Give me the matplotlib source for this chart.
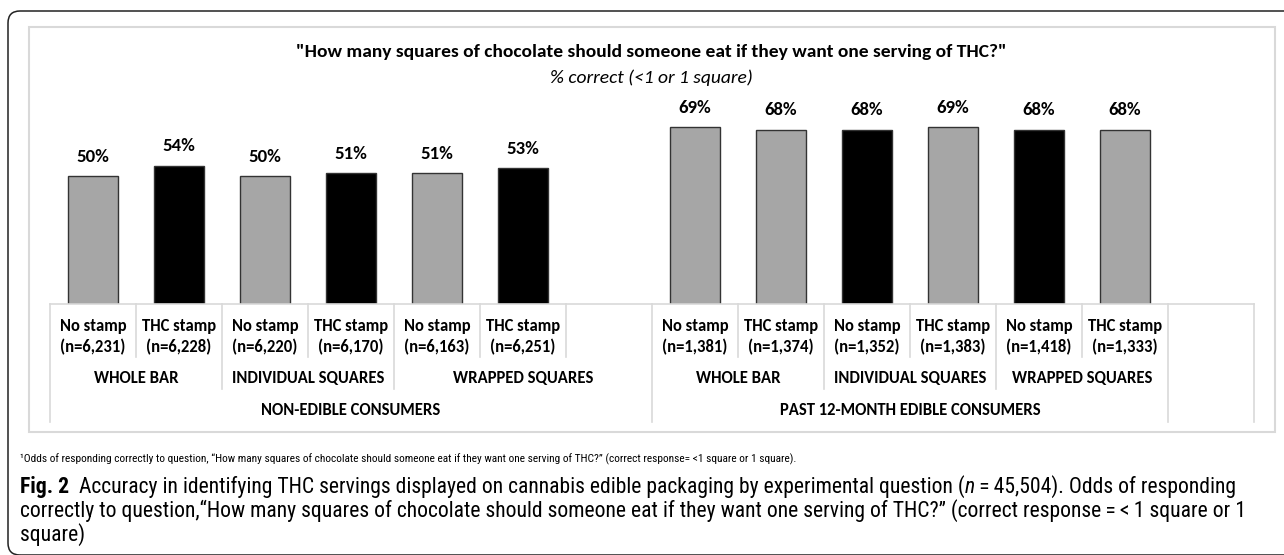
import matplotlib
matplotlib.use("Agg")
import matplotlib.pyplot as plt
from matplotlib import font_manager
from matplotlib.patches import FancyBboxPatch, Rectangle
from matplotlib.text import Annotation
from matplotlib.transforms import blended_transform_factory

# data
groups = ["NON-EDIBLE CONSUMERS", "PAST 12-MONTH EDIBLE CONSUMERS"]
packaging = ["WHOLE BAR", "INDIVIDUAL SQUARES", "WRAPPED SQUARES"]
stamps = ["No stamp", "THC stamp"]
n_nonedible = [6231, 6228, 6220, 6170, 6163, 6251]
n_edible = [1381, 1374, 1352, 1383, 1418, 1333]
pct_nonedible = [50, 54, 50, 51, 51, 53]
pct_edible = [69, 68, 68, 69, 68, 68]

GREY = "#a6a6a6"
fill_nonedible = [GREY, "black", GREY, "black", GREY, "black"]
fill_edible = [GREY, GREY, "black", GREY, "black", GREY]
LINE = "#d9d9d9"

installed = {f.name for f in font_manager.fontManager.ttflist}
def pick(cands):
    for c in cands:
        if c in installed:
            return c
    return "DejaVu Sans"

chart_font = pick(["Carlito", "Lato", "Open Sans"])
cap_font = pick(["Liberation Sans Narrow", "Roboto Condensed", "Open Sans", "Noto Sans"])

W, H = 1284, 555
fig = plt.figure(figsize=(W / 100, H / 100), dpi=100)
fig.patch.set_facecolor("white")

def fy(py):
    return 1 - py / H

# outer rounded box (runs past the right and bottom edge)
box = FancyBboxPatch((0.08, 0.0), 13.2, 5.44, boxstyle="round,pad=0,rounding_size=0.12",
                     transform=fig.dpi_scale_trans, fill=False, ec="#222222", lw=1.1)
fig.add_artist(box)

# light chart frame
fig.add_artist(Rectangle((29 / W, fy(432)), (1275 - 29) / W, (432 - 27) / H,
                         transform=fig.transFigure, fill=False, ec=LINE, lw=1.5))

ax = fig.add_axes([50 / W, fy(304), (1254 - 50) / W, 256 / H])
ax.set_xlim(-0.5, 13.5)
ax.set_ylim(0, 100)
ax.axis("off")

x_left = list(range(6))
x_right = list(range(7, 13))
ax.bar(x_left, pct_nonedible, width=0.58, color=fill_nonedible, edgecolor="#333333", lw=1)
ax.bar(x_right, pct_edible, width=0.58, color=fill_edible, edgecolor="#333333", lw=1)

for xs, vals in [(x_left, pct_nonedible), (x_right, pct_edible)]:
    for x, v in zip(xs, vals):
        ax.annotate(f"{v}%", (x, v), xytext=(0, 14), textcoords="offset points",
                    ha="center", va="center", fontsize=13.5, fontweight="bold",
                    family=chart_font)

tr = blended_transform_factory(ax.transData, fig.transFigure)

# category axis line and separators
ax.plot([-0.5, 13.5], [fy(304), fy(304)], color=LINE, lw=1.2, transform=tr, clip_on=False)
depth = {-0.5: 422, 0.5: 357, 1.5: 389, 2.5: 357, 3.5: 389, 4.5: 357, 5.5: 357,
         6.5: 422, 7.5: 357, 8.5: 389, 9.5: 357, 10.5: 389, 11.5: 357, 12.5: 422, 13.5: 422}
for b, end in depth.items():
    ax.plot([b, b], [fy(304), fy(end)], color=LINE, lw=1.2, transform=tr, clip_on=False)

lab = dict(ha="center", va="center", fontsize=12, fontweight="bold", family=chart_font,
           transform=tr)
for xs, ns in [(x_left, n_nonedible), (x_right, n_edible)]:
    for i, (x, n) in enumerate(zip(xs, ns)):
        ax.text(x, fy(326), stamps[i % 2], **lab)
        ax.text(x, fy(347), f"(n={n:,})", **lab)

for x, name in zip([0.5, 2.5, 5.0], packaging):
    ax.text(x, fy(378), name, **lab)
for x, name in zip([7.5, 9.5, 11.5], packaging):
    ax.text(x, fy(378), name, **lab)
ax.text(3.0, fy(410), groups[0], **lab)
ax.text(9.5, fy(410), groups[1], **lab)

fig.text(651 / W, fy(52), '"How many squares of chocolate should someone eat if they want one serving of THC?"',
         ha="center", va="center", fontsize=14, fontweight="bold", family=chart_font)
fig.text(651 / W, fy(78), "% correct (<1 or 1 square)", ha="center", va="center",
         fontsize=14, style="italic", family=chart_font)

# footnote and caption
fig.text(20 / W, fy(459), "\u00b9Odds of responding correctly to question, \u201cHow many squares of chocolate should "
         "someone eat if they want one serving of THC?\u201d (correct response= <1 square or 1 square).",
         ha="left", va="center", fontsize=8.2, family=cap_font)

cap = dict(fontsize=15.6, family=cap_font, va="bottom", ha="left")
first = fig.text(20 / W, fy(498), "Fig. 2", fontweight="bold", **cap)
part1 = fig.add_artist(Annotation("  Accuracy in identifying THC servings displayed on cannabis edible packaging "
                                  "by experimental question (", xy=(1, 0), xycoords=first, **cap))
part2 = fig.add_artist(Annotation("n", xy=(1, 0), xycoords=part1, style="italic", **cap))
fig.add_artist(Annotation("\u2009=\u200945,504). Odds of responding", xy=(1, 0), xycoords=part2, **cap))
fig.text(20 / W, fy(522), "correctly to question,\u201cHow many squares of chocolate should someone eat if they want "
         "one serving of THC?\u201d (correct response\u2009=\u2009<\u20091 square or 1", **cap)
fig.text(20 / W, fy(546), "square)", **cap)

fig.savefig("out.png", dpi=100, facecolor="white")
